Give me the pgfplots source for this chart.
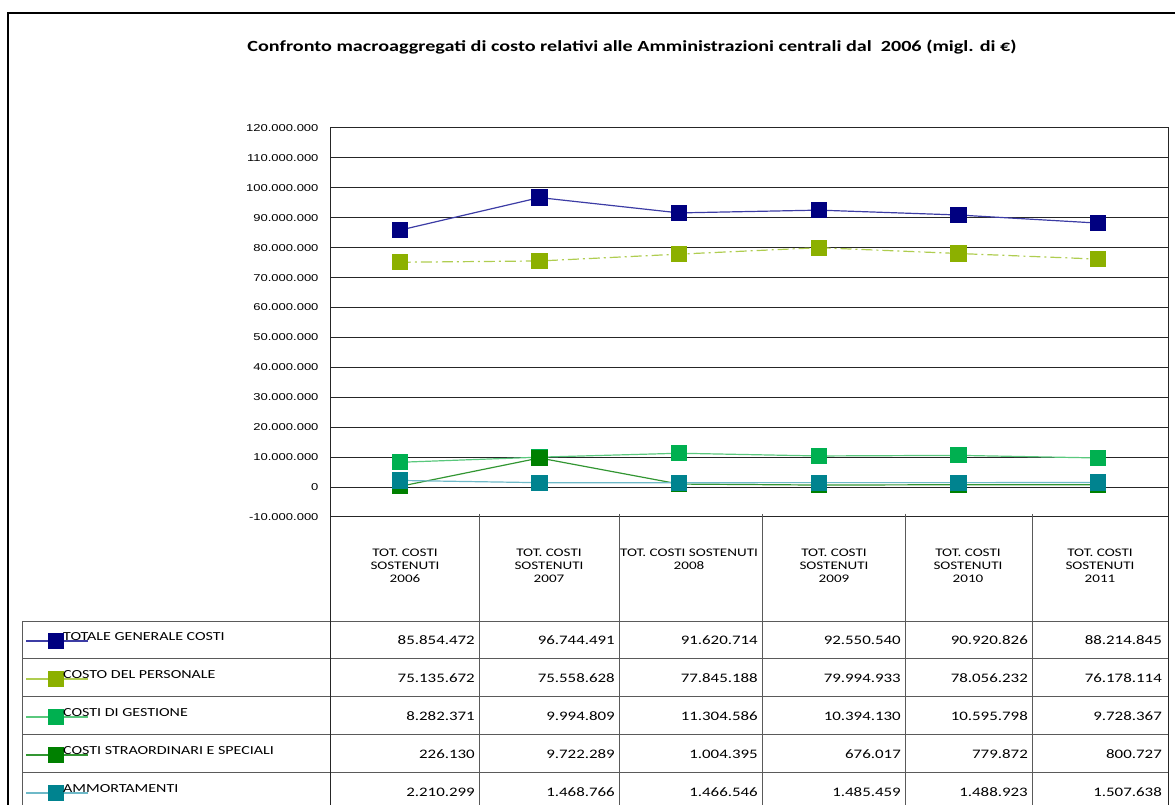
\documentclass[border=0pt]{standalone}
\usepackage{fontspec}
\usepackage{pgfplots}
\pgfplotsset{compat=1.18}
\setmainfont{Carlito}[FakeStretch=1.3]
\newfontfamily\tickfont{Liberation Sans}[FakeStretch=1.3]

\definecolor{totM}{RGB}{0,0,128}
\definecolor{totL}{RGB}{60,60,165}
\definecolor{perM}{RGB}{140,176,0}
\definecolor{perL}{RGB}{175,205,80}
\definecolor{gesM}{RGB}{0,176,80}
\definecolor{gesL}{RGB}{90,200,125}
\definecolor{strM}{RGB}{0,128,0}
\definecolor{strL}{RGB}{50,150,50}
\definecolor{ammM}{RGB}{0,131,143}
\definecolor{ammL}{RGB}{110,185,200}
\definecolor{tabline}{RGB}{90,90,90}

\tikzset{val/.style={anchor=east, inner sep=1pt, font=\fontsize{13}{15}\selectfont}}

% one row of the data table: y, label, line colour, mark colour, five values
\newcommand\tabrow[9]{%
  \draw[#3, line width=1.3pt] (26,#1-1) -- (88,#1-1);
  \fill[#4] (48,#1-9) rectangle (64,#1+7);
  \node[anchor=west, inner sep=1pt, font=\fontsize{12.3}{14}\selectfont] at (62,#1+3) {#2};
  \node[val] at (476,#1) {#5};
  \node[val] at (616,#1) {#6};
  \node[val] at (759,#1) {#7};
  \node[val] at (902,#1) {#8};
  \node[val] at (1029,#1) {#9};
}
\newcommand\lastval[2]{\node[val] at (1163,#1) {#2};}

\begin{document}
\begin{tikzpicture}[x=1pt,y=1pt]
\useasboundingbox (0,0) rectangle (1175,805);

% outer frame (cut at right and bottom)
\draw[line width=2pt] (8,0) -- (8,792) -- (1180,792);

\node[font=\bfseries\fontsize{15.5}{17}\selectfont] at (632,758)
  {Confronto macroaggregati di costo relativi alle Amministrazioni centrali dal\ \ 2006 (migl. di €)};

\begin{axis}[
  at={(330pt,288pt)}, anchor=south west,
  scale only axis, width=838pt, height=389pt,
  xmin=-0.5, xmax=5.5,
  ymin=-10000000, ymax=120000000,
  ytick distance=10000000,
  xtick=\empty,
  major tick length=0pt,
  scaled y ticks=false,
  ymajorgrids,
  grid style={black!85, line width=1pt},
  axis line style={black!85, line width=1pt},
  yticklabel style={font=\tickfont\fontsize{10}{12}\selectfont, xshift=-8pt,
    /pgf/number format/.cd, fixed, precision=0, 1000 sep={.}, assume math mode=true},
  every axis plot/.append style={line width=1.2pt, mark=square*, mark size=7.5pt},
  clip=false,
]
\addplot[totL, mark options={solid, fill=totM, draw=totM}] coordinates {
  (0,85854472) (1,96744491) (2,91620714) (3,92550540) (4,90920826) (5,88214845)};
\addplot[perL, dash pattern=on 11pt off 4pt on 2pt off 4pt, mark options={solid, fill=perM, draw=perM}] coordinates {
  (0,75135672) (1,75558628) (2,77845188) (3,79994933) (4,78056232) (5,76178114)};
\addplot[gesL, mark options={solid, fill=gesM, draw=gesM}] coordinates {
  (0,8282371) (1,9994809) (2,11304586) (3,10394130) (4,10595798) (5,9728367)};
\addplot[strL, mark options={solid, fill=strM, draw=strM}] coordinates {
  (0,226130) (1,9722289) (2,1004395) (3,676017) (4,779872) (5,800727)};
\addplot[ammL, mark options={solid, fill=ammM, draw=ammM}] coordinates {
  (0,2210299) (1,1468766) (2,1466546) (3,1485459) (4,1488923) (5,1507638)};
\end{axis}

% data table grid
\begin{scope}[tabline, line width=1pt]
  \draw (22,183) -- (1168,183);
  \foreach \y in {146,108,70,32} \draw (22,\y) -- (1168,\y);
  \draw (22,183) -- (22,0);
  \draw[black!85] (330,288) -- (330,0);
  \draw[black!85] (1168,288) -- (1168,0);
  \foreach \x in {479,619,762,905,1032} \draw (\x,291) -- (\x,0);
\end{scope}

% column headers
\begin{scope}[font=\fontsize{11.6}{13}\selectfont, align=center]
  \node at (405,239) {TOT. COSTI\\SOSTENUTI\\2006};
  \node at (549,239) {TOT. COSTI\\SOSTENUTI\\2007};
  \node at (689,245.5) {TOT. COSTI SOSTENUTI\\2008};
  \node at (834,239) {TOT. COSTI\\SOSTENUTI\\2009};
  \node at (968,239) {TOT. COSTI\\SOSTENUTI\\2010};
  \node at (1100,239) {TOT. COSTI\\SOSTENUTI\\2011};
\end{scope}

% rows
\tabrow{165}{TOTALE GENERALE COSTI}{totL}{totM}{85.854.472}{96.744.491}{91.620.714}{92.550.540}{90.920.826}
\lastval{165}{88.214.845}
\tabrow{127}{COSTO DEL PERSONALE}{perL}{perM}{75.135.672}{75.558.628}{77.845.188}{79.994.933}{78.056.232}
\lastval{127}{76.178.114}
\tabrow{89}{COSTI DI GESTIONE}{gesL}{gesM}{8.282.371}{9.994.809}{11.304.586}{10.394.130}{10.595.798}
\lastval{89}{9.728.367}
\tabrow{51}{COSTI STRAORDINARI E SPECIALI}{strL}{strM}{226.130}{9.722.289}{1.004.395}{676.017}{779.872}
\lastval{51}{800.727}
\tabrow{13}{AMMORTAMENTI}{ammL}{ammM}{2.210.299}{1.468.766}{1.466.546}{1.485.459}{1.488.923}
\lastval{13}{1.507.638}
\end{tikzpicture}
\end{document}
